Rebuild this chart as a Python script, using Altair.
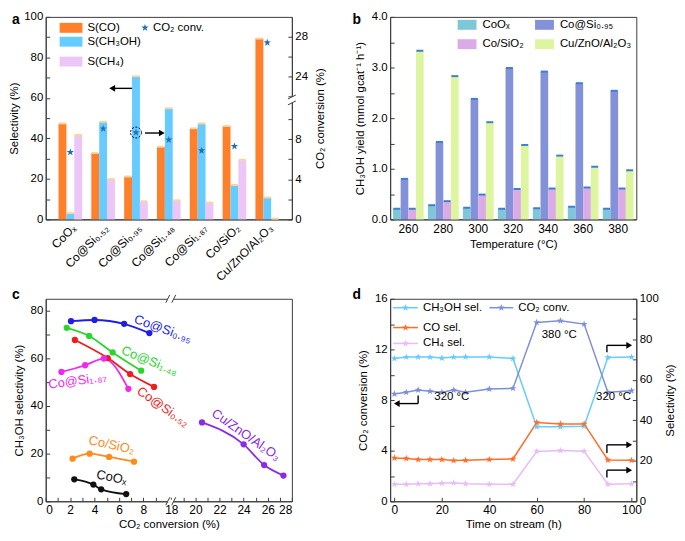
import altair as alt
import pandas as pd

FONT = "Liberation Sans"
AXC = "#3c3c3c"
W = 248
H1 = 204
H2 = 204
TS = {"expr": "-4"}
LP = 7
ONE = pd.DataFrame({"k": [0]})
STAR = ("M0,-1L0.235,-0.324L0.951,-0.309L0.38,0.124L0.588,0.809L0,0.4"
        "L-0.588,0.809L-0.38,0.124L-0.951,-0.309L-0.235,-0.324Z")

# ---------------- panel a data ----------------
cats_a = ["CoOₓ", "Co@Si₀.₅₂", "Co@Si₀.₉₅", "Co@Si₁.₄₈", "Co@Si₁.₈₇", "Co/SiO₂", "Cu/ZnO/Al₂O₃"]
series_a = ["S(CO)", "S(CH₃OH)", "S(CH₄)"]
sel_co_a = [47.4, 32.8, 21.2, 35.9, 45.0, 46.1, 89.3]
sel_meoh_a = [3.1, 48.2, 70.7, 54.9, 47.4, 17.0, 10.8]
sel_ch4_a = [41.7, 19.9, 8.9, 9.4, 8.3, 29.4, 0.4]
conv_a = [6.7, 9.05, 8.66, 7.94, 6.86, 7.29, 27.4]
colors_a = ["#FF7F2A", "#66CCFF", "#EBC6F7"]

# ---------------- panel b data ----------------
temps_b = ["260", "280", "300", "320", "340", "360", "380"]
series_b = ["CoOₓ", "Co@Si₀.₉₅", "Co/SiO₂", "Cu/ZnO/Al₂O₃"]
yield_coox = [0.21, 0.28, 0.23, 0.21, 0.22, 0.25, 0.21]
yield_cosi = [0.80, 1.53, 2.38, 2.99, 2.92, 2.69, 2.54]
yield_cosio2 = [0.21, 0.36, 0.49, 0.60, 0.61, 0.63, 0.61]
yield_cu = [3.33, 2.83, 1.92, 1.47, 1.26, 1.04, 0.97]
colors_b = ["#7DC7D9", "#8391D9", "#DAABE6", "#DDF59E"]

# ---------------- panel c data ----------------
series_c = ["Co@Si₀.₉₅", "Co@Si₁.₄₈", "Co@Si₀.₅₂", "Co@Si₁.₈₇", "Co/SiO₂", "CoOₓ", "Cu/ZnO/Al₂O₃"]
conv_c = [[2.07, 4.0, 6.42, 8.49], [1.72, 3.55, 5.48, 7.82], [2.39, 5.08, 6.91, 8.87],
          [1.29, 3.23, 4.76, 6.77], [2.2, 3.6, 5.19, 7.23], [2.34, 3.9, 4.54, 6.59],
          [20.55, 24.0, 25.7, 27.3]]
sel_c = [[75.6, 76.1, 74.5, 70.6], [72.8, 69.4, 62.5, 54.8], [67.7, 60.1, 53.4, 48.0],
         [54.3, 57.1, 59.9, 47.2], [17.9, 20.0, 18.6, 16.6], [9.2, 7.0, 5.0, 3.0],
         [33.1, 23.9, 15.2, 10.8]]
colors_c = ["#1E1EE6", "#2BD62B", "#EE1C1C", "#EE2AEE", "#FF8C1A", "#111111", "#8A2BE6"]
lab_c_x = [9.6, 8.5, 9.6, 2.6, 5.4, 5.4, 24.2]
lab_c_y = [72.3, 58.9, 39.6, 50.6, 23.6, 10.0, 27.8]
lab_c_ang = [20, 22, 35, 352, 12, 12, 35]

# ---------------- panel d data ----------------
time_d = [0, 5, 10, 15, 20, 25, 30, 40, 50, 60, 70, 80, 90, 100]
sel_meoh_d = [70.5, 71.2, 71.3, 71.2, 70.8, 71.2, 71.3, 71.3, 70.5, 36.8, 36.8, 37.1, 71.0, 71.2]
sel_co_d = [21.4, 21.1, 20.6, 20.6, 20.6, 20.1, 20.3, 20.6, 20.9, 38.9, 38.2, 38.2, 20.4, 20.2]
sel_ch4_d = [8.4, 8.4, 8.6, 8.7, 8.9, 9.1, 8.7, 8.4, 8.4, 24.6, 25.1, 24.7, 8.4, 8.6]
conv_d = [8.48, 8.61, 8.79, 8.69, 8.61, 8.79, 8.61, 8.87, 8.92, 14.13, 14.26, 14.0, 8.61, 8.74]
series_d = ["CH₃OH sel.", "CO sel.", "CH₄ sel."]
colors_d = ["#66CCFF", "#FF6E2A", "#E8BDF5"]
color_conv_d = "#7F8FD9"


def vtext(x, y, text, size=11.5, color="black", align="left", baseline="middle", weight="normal"):
    return alt.Chart(ONE).mark_text(text=text, font=FONT, fontSize=size, color=color, align=align,
                                    baseline=baseline, fontWeight=weight).encode(
        x=alt.value(x), y=alt.value(y))


def vrect(x, y, w, h, color):
    return alt.Chart(ONE).mark_rect(color=color).encode(
        x=alt.value(x), x2=alt.value(x + w), y=alt.value(y - h / 2), y2=alt.value(y + h / 2))


def vline(x1, y1, x2, y2, color="black", width=1.4):
    return alt.Chart(ONE).mark_rule(color=color, strokeWidth=width).encode(
        x=alt.value(x1), x2=alt.value(x2), y=alt.value(y1), y2=alt.value(y2))


def vsym(x, y, shape, color, size):
    return alt.Chart(ONE).mark_point(shape=shape, filled=True, color=color, size=size,
                                     opacity=1).encode(x=alt.value(x), y=alt.value(y))


def breakmark_h(xc, y):
    return [vline(xc - 3, y, xc + 3, y, "white", 3),
            vline(xc - 5, y + 4, xc - 1, y - 4, AXC, 1),
            vline(xc + 1, y + 4, xc + 5, y - 4, AXC, 1)]


def breakmark_v(x, yc):
    return [vline(x, yc - 3, x, yc + 3, "white", 3),
            vline(x - 4, yc - 1, x + 4, yc - 5, AXC, 1),
            vline(x - 4, yc + 5, x + 4, yc + 1, AXC, 1)]


# ================= panel a =================
df_a = pd.DataFrame({
    "cat": cats_a * 3,
    "series": sum([[s] * len(cats_a) for s in series_a], []),
    "value": sel_co_a + sel_meoh_a + sel_ch4_a,
})
df_a_conv = pd.DataFrame({"cat": cats_a, "conv": conv_a})

xa = alt.X("cat:N", sort=cats_a,
           scale=alt.Scale(domain=cats_a, paddingInner=0.28, paddingOuter=0.39),
           axis=alt.Axis(title=None, labelAngle=-45, ticks=False, labelFontSize=12, labelPadding=3))
xoff_a = alt.XOffset("series:N", sort=series_a, scale=alt.Scale(domain=series_a))
sel_scale_a = alt.Scale(domain=[0, 100], nice=False)
ya = alt.Y("value:Q", scale=sel_scale_a,
           axis=alt.Axis(title="Selectivity (%)", orient="left", values=list(range(0, 101, 10)),
                         labelExpr="datum.value % 20 == 0 ? datum.label : ''",
                         tickSize=TS, labelPadding=LP, titlePadding=4))
bars_a = alt.Chart(df_a).mark_bar().encode(
    x=xa, xOffset=xoff_a, y=ya,
    color=alt.Color("series:N", scale=alt.Scale(domain=series_a, range=colors_a), legend=None))
beads_a = alt.Chart(df_a).mark_tick(color="#FFD49A", thickness=2, size=7, opacity=1).encode(
    x=xa, xOffset=xoff_a, y=alt.Y("value:Q", scale=sel_scale_a, axis=None))

conv_scale_a = alt.Scale(domain=[0, 12, 21.5, 30],
                         range=[H1, H1 * 83.6 / 206, H1 * 85.5 / 206, 0], nice=False, zero=False)
ya2 = alt.Y("conv:Q", scale=conv_scale_a,
            axis=alt.Axis(title="CO₂ conversion (%)", orient="right",
                          values=[0, 2, 4, 6, 8, 10, 22, 24, 26, 28],
                          labelExpr="indexof([0,4,8,24,28], datum.value) >= 0 ? datum.label : ''",
                          tickSize=TS, labelPadding=LP, titlePadding=7, titleAngle=270,
                          titleBaseline="top"))
stars_a = alt.Chart(df_a_conv).mark_point(shape=STAR, filled=True, size=60, color="#1D6FBF",
                                          opacity=1).encode(x=xa, y=ya2)
circle_a = alt.Chart(df_a_conv).transform_filter(alt.datum.cat == cats_a[2]).mark_point(
    shape="circle", filled=False, size=120, color="black", strokeDash=[2, 1.5], strokeWidth=1,
    opacity=1).encode(x=xa, y=alt.Y("conv:Q", scale=conv_scale_a, axis=None))

ann_a = [
    vrect(14, 11, 23, 10, colors_a[0]), vtext(42, 11, series_a[0]),
    vrect(14, 25, 23, 10, colors_a[1]), vtext(42, 25, series_a[1]),
    vrect(14, 45, 23, 10, colors_a[2]), vtext(42, 45, series_a[2]),
    vsym(100, 11, STAR, "#1D6FBF", 60), vtext(108, 11, "CO₂ conv."),
    vline(87, 72, 68, 72), vsym(67, 72, "triangle-left", "black", 45),
    vline(100, 117, 116, 117), vsym(117, 117, "triangle-right", "black", 45),
    vtext(-34, 7, "a", size=14, weight="bold", baseline="alphabetic"),
] + breakmark_v(W, H1 * 84.5 / 206)

panel_a = alt.layer(bars_a, beads_a, stars_a, circle_a, *ann_a).resolve_scale(
    y="independent").properties(width=W, height=H1)

# ================= panel b =================
df_b = pd.DataFrame({
    "temp": temps_b * 4,
    "series": sum([[s] * len(temps_b) for s in series_b], []),
    "value": yield_coox + yield_cosi + yield_cosio2 + yield_cu,
})
xb = alt.X("temp:N", sort=temps_b,
           scale=alt.Scale(domain=temps_b, paddingInner=0.12, paddingOuter=0.08),
           axis=alt.Axis(title="Temperature (°C)", labelAngle=0, ticks=False, labelFontSize=12,
                         labelPadding=4, titlePadding=4))
xoff_b = alt.XOffset("series:N", sort=series_b, scale=alt.Scale(domain=series_b))
yb_scale = alt.Scale(domain=[0, 4], nice=False)
yb = alt.Y("value:Q", scale=yb_scale,
           axis=alt.Axis(title="CH₃OH yield (mmol gcat⁻¹ h⁻¹)", values=[i / 2 for i in range(9)],
                         labelExpr="datum.value % 1 == 0 ? datum.label : ''",
                         tickSize=TS, labelPadding=LP, titlePadding=6))
bars_b = alt.Chart(df_b).mark_bar().encode(
    x=xb, xOffset=xoff_b, y=yb,
    color=alt.Color("series:N", scale=alt.Scale(domain=series_b, range=colors_b), legend=None))
beads_b = alt.Chart(df_b).mark_tick(color="#3F7FD0", thickness=2, size=7, opacity=1).encode(
    x=xb, xOffset=xoff_b, y=yb)
ann_b = [
    vrect(68, 8, 19, 10, colors_b[0]), vtext(93, 8, series_b[0]),
    vrect(146, 8, 19, 10, colors_b[1]), vtext(171, 8, series_b[1]),
    vrect(68, 27.5, 19, 10, colors_b[2]), vtext(93, 27.5, series_b[2]),
    vrect(146, 27.5, 19, 10, colors_b[3]), vtext(171, 27.5, series_b[3]),
    vtext(-38, 7, "b", size=14, weight="bold", baseline="alphabetic"),
]
panel_b = alt.layer(bars_b, beads_b, *ann_b).properties(width=W, height=H1)

# ================= panel c =================
rows_c = []
for s, xs, ys in zip(series_c, conv_c, sel_c):
    for xv, yv in zip(xs, ys):
        rows_c.append({"series": s, "conv": xv, "sel": yv})
df_c = pd.DataFrame(rows_c)
df_c_lab = pd.DataFrame({"series": series_c, "conv": lab_c_x, "sel": lab_c_y, "ang": lab_c_ang})
bx1 = W * 126.5 / 250
bx2 = W * 127.5 / 250
xc_scale = alt.Scale(domain=[0, 10.2, 18, 28], range=[0, bx1, bx2, W], nice=False, zero=False)
xc = alt.X("conv:Q", scale=xc_scale,
           axis=alt.Axis(title="CO₂ conversion (%)", values=list(range(0, 10)) + list(range(18, 29)),
                         labelExpr="datum.value % 2 == 0 ? datum.label : ''",
                         tickSize=TS, labelPadding=LP, titlePadding=3, labelFontSize=12))
yc = alt.Y("sel:Q", scale=alt.Scale(domain=[0, 85], nice=False),
           axis=alt.Axis(title="CH₃OH selectivity (%)", values=list(range(0, 81, 10)),
                         labelExpr="datum.value % 20 == 0 ? datum.label : ''",
                         tickSize=TS, labelPadding=LP, titlePadding=6))
color_c = alt.Color("series:N", scale=alt.Scale(domain=series_c, range=colors_c), legend=None)
lines_c = alt.Chart(df_c).mark_line(interpolate="monotone", strokeWidth=1.8).encode(
    x=xc, y=yc, color=color_c)
pts_c = alt.Chart(df_c).mark_circle(size=40, opacity=1).encode(x=xc, y=yc, color=color_c)
labs_c = alt.Chart(df_c_lab).mark_text(font=FONT, fontSize=13).encode(
    x=xc, y=yc, color=color_c, text="series:N", angle=alt.Angle("ang:Q", scale=None))
ann_c = [vtext(-34, 0, "c", size=14, weight="bold", baseline="alphabetic")] + \
    breakmark_h((bx1 + bx2) / 2, 0) + breakmark_h((bx1 + bx2) / 2, H2)
panel_c = alt.layer(lines_c, pts_c, labs_c, *ann_c).properties(width=W, height=H2)

# ================= panel d =================
df_dsel = pd.DataFrame({
    "t": time_d * 3,
    "series": sum([[s] * len(time_d) for s in series_d], []),
    "v": sel_meoh_d + sel_co_d + sel_ch4_d,
})
df_dconv = pd.DataFrame({"t": time_d, "conv": conv_d})
xd_scale = alt.Scale(domain=[-1.8, 102], nice=False, zero=False)
xd = alt.X("t:Q", scale=xd_scale,
           axis=alt.Axis(title="Time on stream (h)", values=list(range(0, 101, 10)),
                         labelExpr="datum.value % 20 == 0 ? datum.label : ''",
                         tickSize=TS, labelPadding=LP, titlePadding=3, labelFontSize=12))
sel_scale_d = alt.Scale(domain=[0, 100], nice=False)
conv_scale_d = alt.Scale(domain=[0, 16], nice=False)
color_d = alt.Color("series:N", scale=alt.Scale(domain=series_d, range=colors_d), legend=None)
yd_sel = alt.Y("v:Q", scale=sel_scale_d,
               axis=alt.Axis(title="Selectivity (%)", orient="right", values=list(range(0, 101, 10)),
                             labelExpr="datum.value % 20 == 0 ? datum.label : ''",
                             tickSize=TS, labelPadding=LP, titlePadding=6, titleAngle=270,
                             titleBaseline="top"))
yd_conv = alt.Y("conv:Q", scale=conv_scale_d,
                axis=alt.Axis(title="CO₂ conversion (%)", orient="left", values=list(range(0, 17, 2)),
                              labelExpr="datum.value % 4 == 0 ? datum.label : ''",
                              tickSize=TS, labelPadding=LP, titlePadding=6))
conv_line_d = alt.Chart(df_dconv).mark_line(strokeWidth=1.5, color=color_conv_d).encode(x=xd, y=yd_conv)
conv_pts_d = alt.Chart(df_dconv).mark_point(shape=STAR, filled=True, size=55, opacity=1,
                                            color=color_conv_d).encode(
    x=xd, y=alt.Y("conv:Q", scale=conv_scale_d, axis=None))
sel_line_d = alt.Chart(df_dsel).mark_line(strokeWidth=1.5).encode(x=xd, y=yd_sel, color=color_d)
sel_pts_d = alt.Chart(df_dsel).mark_point(shape=STAR, filled=True, size=55, opacity=1).encode(
    x=xd, y=alt.Y("v:Q", scale=sel_scale_d, axis=None), color=color_d)

arr_x = [10.0, 10.0, 89.6, 89.6, 89.6, 89.6, 89.6, 89.6]
arr_y = [8.35, 7.72, 11.77, 12.32, 3.81, 4.46, 1.87, 2.46]
arr_x2 = [10.0, 1.2, 89.6, 98.8, 89.6, 98.8, 89.6, 98.8]
arr_y2 = [7.72, 7.72, 12.32, 12.32, 4.46, 4.46, 2.46, 2.46]
df_arr = pd.DataFrame({"t": arr_x, "conv": arr_y, "t2": arr_x2, "conv2": arr_y2})
arrows_d = alt.Chart(df_arr).mark_rule(color="black", strokeWidth=1.4).encode(
    x=alt.X("t:Q", scale=xd_scale), x2="t2:Q",
    y=alt.Y("conv:Q", scale=conv_scale_d, axis=None), y2="conv2:Q")
head_x = [1.0, 99.0, 99.0, 99.0]
head_y = [7.72, 12.32, 4.46, 2.46]
head_s = ["triangle-left", "triangle-right", "triangle-right", "triangle-right"]
df_head = pd.DataFrame({"t": head_x, "conv": head_y, "s": head_s})
heads_d = alt.Chart(df_head).mark_point(filled=True, color="black", size=45, opacity=1).encode(
    x=alt.X("t:Q", scale=xd_scale),
    y=alt.Y("conv:Q", scale=conv_scale_d, axis=None),
    shape=alt.Shape("s:N", scale=None, legend=None))
temp_lab = ["380 °C", "320 °C", "320 °C"]
temp_x = [69.5, 24.2, 92.4]
temp_y = [13.1, 8.2, 8.2]
df_tl = pd.DataFrame({"t": temp_x, "conv": temp_y, "lab": temp_lab})
tl_d = alt.Chart(df_tl).mark_text(font=FONT, fontSize=11.5, color="black").encode(
    x=alt.X("t:Q", scale=xd_scale),
    y=alt.Y("conv:Q", scale=conv_scale_d, axis=None), text="lab:N")

ann_d = [
    vline(3, 9, 28, 9, colors_d[0], 1.5), vsym(15.5, 9, STAR, colors_d[0], 55), vtext(33, 9, series_d[0]),
    vline(100, 9, 124, 9, color_conv_d, 1.5), vsym(112, 9, STAR, color_conv_d, 55), vtext(129, 9, "CO₂ conv."),
    vline(3, 29, 28, 29, colors_d[1], 1.5), vsym(15.5, 29, STAR, colors_d[1], 55), vtext(33, 29, series_d[1]),
    vline(3, 45, 28, 45, colors_d[2], 1.5), vsym(15.5, 45, STAR, colors_d[2], 55), vtext(33, 45, series_d[2]),
    vtext(-38, 0, "d", size=14, weight="bold", baseline="alphabetic"),
]
panel_d = alt.layer(sel_line_d, conv_line_d, sel_pts_d, conv_pts_d, arrows_d, heads_d, tl_d,
                    *ann_d).resolve_scale(y="independent").properties(width=W, height=H2)

chart = alt.concat(panel_a, panel_b, panel_c, panel_d, columns=2,
                   spacing={"row": 80, "column": 99}, bounds="flush", padding=0).resolve_scale(
    color="independent", xOffset="independent", shape="independent", angle="independent"
).configure(
    font=FONT, background="white"
).configure_axis(
    labelFont=FONT, titleFont=FONT, labelFontSize=11.5, titleFontSize=11.5,
    titleFontWeight="normal", labelColor="black", titleColor="black",
    domainColor=AXC, tickColor=AXC, grid=False
).configure_view(stroke=AXC, strokeWidth=1)

chart.save("out.html", embed_options={"renderer": "svg", "actions": False})
